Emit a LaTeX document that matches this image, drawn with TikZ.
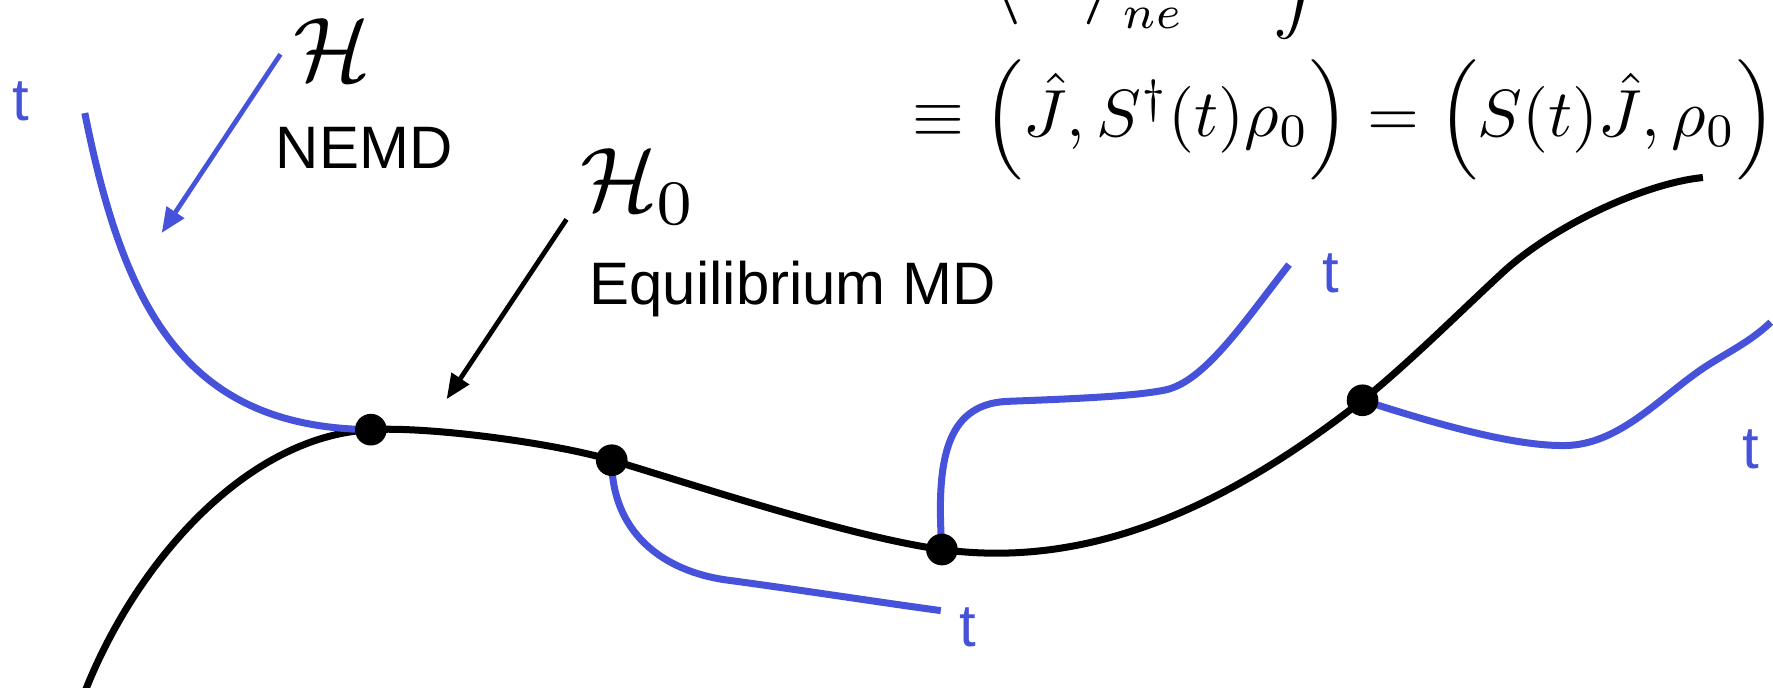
\documentclass[tikz,border=0pt]{standalone}
\usepackage{fontspec}
\setmainfont{Liberation Sans}
\usetikzlibrary{arrows.meta,shapes.geometric}
\definecolor{tblue}{RGB}{69,82,217}
\tikzset{
  lbl/.style={font=\fontsize{26.5}{30}\selectfont, inner sep=0pt},
  tlbl/.style={lbl, text=tblue},
  traj/.style={line width=3.1pt, black},
  btraj/.style={line width=3.1pt, tblue},
  dot/.style={circle, fill=black, minimum size=14pt, inner sep=0pt},
  arr/.style={line width=2.1pt, -{Triangle[length=11pt,width=9pt]}},
}
\begin{document}
\begin{tikzpicture}[x=0.5pt,y=-0.5pt]
\useasboundingbox (0,0) rectangle (1568,608);
\clip (0,0) rectangle (1568,608);
% dot positions
\coordinate (d1) at (328,380);
\coordinate (d2) at (541,407);
\coordinate (d3) at (833,486);
\coordinate (d4) at (1205,354);
% main (equilibrium) trajectory
\coordinate (m0) at (75,612);
\coordinate (m5) at (1330,240);
\coordinate (mE) at (1506,157);
\draw[traj] (m0) .. controls (118,502) and (215,386) .. (d1)
  .. controls (380,377) and (491,392) .. (d2)
  .. controls (621,431) and (753,475) .. (d3)
  .. controls (960,503) and (1080,452) .. (d4)
  .. controls (1245,322) and (1292,275) .. (m5)
  .. controls (1375,199) and (1455,162) .. (mE);
% blue branches
\coordinate (b1) at (75,100);
\draw[btraj] (b1) .. controls (110,275) and (165,378) .. (d1);
\coordinate (c21) at (643,513);
\coordinate (b2) at (832,540);
\draw[btraj] (d2) .. controls (541,470) and (585,505) .. (c21)
  .. controls (703,521) and (780,533) .. (b2);
\coordinate (c31) at (890,355);
\coordinate (c32) at (1030,345);
\coordinate (b3) at (1140,234);
\draw[btraj] (d3) .. controls (828,410) and (835,358) .. (c31)
  .. controls (940,353) and (1000,351) .. (c32)
  .. controls (1065,338) and (1100,285) .. (b3);
\coordinate (c41) at (1385,394);
\coordinate (c42) at (1500,330);
\coordinate (b4) at (1566,285);
\draw[btraj] (d4) .. controls (1270,375) and (1340,395) .. (c41)
  .. controls (1430,393) and (1465,355) .. (c42)
  .. controls (1522,314) and (1545,305) .. (b4);
% dots
\node[dot] (n1) at (d1) {};
\node[dot] (n2) at (d2) {};
\node[dot] (n3) at (d3) {};
\node[dot] (n4) at (d4) {};
% t labels
\node[tlbl] (t1) at (18,90) {t};
\node[tlbl] (t2) at (856,555) {t};
\node[tlbl] (t3) at (1177,242) {t};
\node[tlbl] (t4) at (1548,397) {t};
% H labels
\node[inner sep=0pt, scale=4] (H) at (294,44) {$\mathcal{H}$};
\node[lbl] (nemd) at (322,131) {NEMD};
\node[inner sep=0pt, scale=4] (H0) at (565,165) {$\mathcal{H}_0$};
\node[lbl] (eqmd) at (701,256) {Equilibrium MD};
\coordinate (a1s) at (248,48);
\coordinate (a1e) at (143,206);
\draw[arr, tblue] (a1s) -- (a1e);
\coordinate (a2s) at (501,194);
\coordinate (a2e) at (395,353);
\draw[arr, black] (a2s) -- (a2e);
% formulas
\node[inner sep=0pt, scale=2.95, anchor=base west] (f0) at (868,-16) {$\left\langle\mkern2mu \hat J\mkern2mu\right\rangle_{ne} = \displaystyle\int$};
\node[inner sep=0pt, scale=2.95] (f1) at (1189,106) {$\equiv \left(\hat J, S^\dagger(t)\rho_0\right) = \left(S(t)\hat J,\rho_0\right)$};
\end{tikzpicture}
\end{document}
